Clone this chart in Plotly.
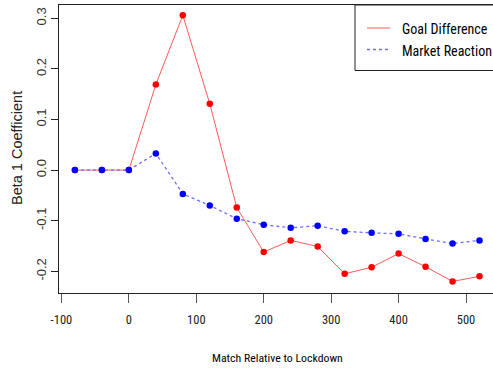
import plotly.graph_objects as go

match = [-80, -40, 0, 40, 80, 120, 160, 200, 240, 280, 320, 360, 400, 440, 480, 520]
goal_diff = [0, 0, 0, 0.169, 0.306, 0.131, -0.074, -0.162, -0.139, -0.151, -0.205, -0.192, -0.165, -0.191, -0.220, -0.210]
market = [0, 0, 0, 0.033, -0.047, -0.070, -0.096, -0.108, -0.114, -0.110, -0.121, -0.124, -0.126, -0.136, -0.145, -0.139]
x_ticks = [-100, 0, 100, 200, 300, 400, 500]
y_ticks = [-0.2, -0.1, 0.0, 0.1, 0.2, 0.3]

W, H = 493, 371
L, R, T, B = 59, 0, 5, 78
PW, PH = W - L - R, H - T - B

def px(x):
    return (x - L) / PW

def py(y):
    return (H - B - y) / PH

NARROW = "Roboto Condensed, Liberation Sans, Arial, sans-serif"
REG = "Liberation Sans, Arial, sans-serif"

fig = go.Figure()
fig.add_trace(go.Scatter(x=match, y=goal_diff, mode="lines", name="Goal Difference",
                         line=dict(color="rgb(255,90,90)", width=1), showlegend=False))
fig.add_trace(go.Scatter(x=match, y=market, mode="lines", name="Market Reaction",
                         line=dict(color="rgb(110,110,255)", width=1.3, dash="dot"), showlegend=False))
fig.add_trace(go.Scatter(x=match, y=goal_diff, mode="markers", showlegend=False,
                         marker=dict(color="#ff0000", size=6.5, line=dict(width=0))))
fig.add_trace(go.Scatter(x=match, y=market, mode="markers", showlegend=False,
                         marker=dict(color="#0000ff", size=6.5, line=dict(width=0))))

shapes = [
    dict(type="rect", xref="paper", yref="paper", x0=px(355), x1=px(500), y0=py(70.5), y1=py(5),
         line=dict(color="#222", width=1), fillcolor="white", layer="above"),
    dict(type="line", xref="paper", yref="paper", x0=px(367), x1=px(390), y0=py(28), y1=py(28),
         line=dict(color="rgb(255,90,90)", width=1), layer="above"),
    dict(type="line", xref="paper", yref="paper", x0=px(367), x1=px(390), y0=py(49.5), y1=py(49.5),
         line=dict(color="rgb(110,110,255)", width=1.3, dash="dot"), layer="above"),
]
annotations = [
    dict(text="Goal Difference", xref="paper", yref="paper", x=px(400), y=py(29), xanchor="left",
         yanchor="middle", showarrow=False, font=dict(family=NARROW, size=14, color="black")),
    dict(text="Market Reaction", xref="paper", yref="paper", x=px(400), y=py(51), xanchor="left",
         yanchor="middle", showarrow=False, font=dict(family=NARROW, size=14, color="black")),
    dict(text="Match Relative to Lockdown", xref="paper", yref="paper", x=px(277), y=py(358),
         xanchor="center", yanchor="middle", showarrow=False, font=dict(family=NARROW, size=11.8, color="black")),
    dict(text="Beta 1 Coefficient", xref="paper", yref="paper", x=px(17), y=py(148),
         xanchor="center", yanchor="middle", textangle=-90, showarrow=False,
         font=dict(family=REG, size=14.5, color="#222")),
]

fig.update_layout(
    width=W, height=H,
    margin=dict(l=L, r=R, t=T, b=B, pad=0),
    plot_bgcolor="white", paper_bgcolor="white",
    shapes=shapes, annotations=annotations,
    xaxis=dict(range=[-103.6, 540], tickvals=x_ticks, ticktext=[str(v) for v in x_ticks],
               showgrid=False, zeroline=False, showline=True, linecolor="#222", linewidth=1,
               mirror=True, ticks="outside", ticklen=9, tickcolor="#555", tickwidth=1,
               ticklabelstandoff=6,
               tickfont=dict(family=NARROW, size=12.5, color="#222")),
    yaxis=dict(range=[-0.2429, 0.3263], tickvals=y_ticks, ticktext=["%.1f" % v for v in y_ticks],
               showgrid=False, zeroline=False, showline=True, linecolor="#222", linewidth=1,
               mirror=False, ticks="outside", ticklen=7, tickcolor="#222", tickwidth=1,
               tickangle=-90, tickfont=dict(family=REG, size=13, color="#333")),
)

fig.write_html("out.html", config={"displayModeBar": False},
               post_script="document.body.style.margin='0px';")
